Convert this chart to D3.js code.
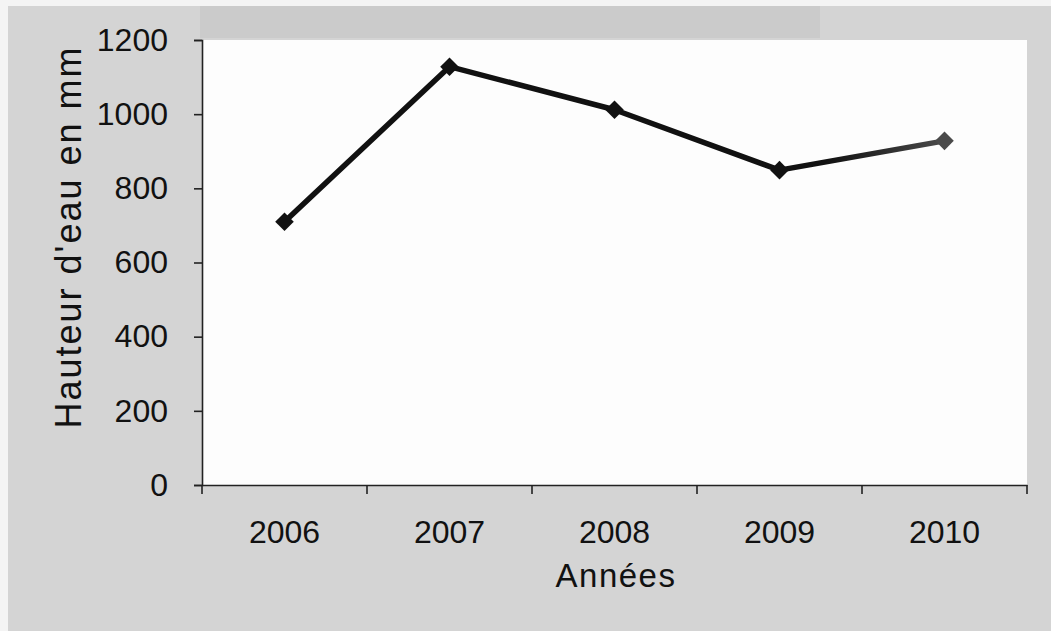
<!DOCTYPE html>
<html>
<head>
<meta charset="utf-8">
<script src="https://cdn.jsdelivr.net/npm/d3@7"></script>
<style>
  html, body { margin: 0; padding: 0; background: #f4f4f4; }
  svg { display: block; }
  text { font-family: "Liberation Sans", Arial, sans-serif; fill: #111; }
</style>
</head>
<body>
<svg id="chart" width="1051" height="631"></svg>
<script>
const years = ["2006", "2007", "2008", "2009", "2010"];
const rainfall = [710, 1128, 1012, 849, 928];
const yTicks = [0, 200, 400, 600, 800, 1000, 1200];
const xTitle = "Années";
const yTitle = "Hauteur d'eau en mm";

const svg = d3.select("#chart");
const W = 1051, H = 631;
const plot = { left: 202, right: 1027, top: 40, bottom: 485 };

// background frame
svg.append("rect").attr("x", 8).attr("y", 6).attr("width", W - 8).attr("height", H - 6)
  .attr("fill", "#d4d4d4");
svg.append("rect").attr("x", 200).attr("y", 6).attr("width", 620).attr("height", 32)
  .attr("fill", "#cbcbcb");

// plot area
svg.append("rect").attr("x", plot.left).attr("y", plot.top)
  .attr("width", plot.right - plot.left).attr("height", plot.bottom - plot.top)
  .attr("fill", "#fdfdfd");

const x = d3.scaleBand().domain(years).range([plot.left, plot.right]).padding(0);
const y = d3.scaleLinear().domain([0, 1200]).range([plot.bottom, plot.top]);

// y axis
const yAxis = svg.append("g").attr("transform", `translate(${plot.left},0)`)
  .call(d3.axisLeft(y).tickValues(yTicks).tickSize(8).tickPadding(26).tickFormat(d3.format("d")));
yAxis.select(".domain").attr("stroke", "#222").attr("stroke-width", 1.6);
yAxis.selectAll(".tick line").attr("stroke", "#222").attr("stroke-width", 1.6);
yAxis.selectAll(".tick text").attr("font-size", 32).attr("font-family", "Liberation Sans, Arial, sans-serif").attr("fill", "#111");

// x axis: domain + boundary ticks (Excel style)
const xAxis = svg.append("g").attr("transform", `translate(0,${plot.bottom})`)
  .call(d3.axisBottom(x).tickSize(0).tickPadding(35));
xAxis.select(".domain").attr("stroke", "#222").attr("stroke-width", 1.6);
xAxis.selectAll(".tick text").attr("font-size", 32).attr("font-family", "Liberation Sans, Arial, sans-serif").attr("fill", "#111");
const bounds = years.map(d => x(d)).concat([x(years[years.length - 1]) + x.bandwidth()]);
xAxis.selectAll("line.bound").data(bounds).enter().append("line")
  .attr("class", "bound")
  .attr("x1", d => d).attr("x2", d => d).attr("y1", 0).attr("y2", 9)
  .attr("stroke", "#222").attr("stroke-width", 1.6);

// titles
svg.append("text").attr("x", 616).attr("y", 587).attr("text-anchor", "middle")
  .attr("font-size", 33).attr("letter-spacing", 1.5).text(xTitle);
svg.append("text").attr("transform", "translate(81,237) rotate(-90)").attr("text-anchor", "middle")
  .attr("font-size", 36).attr("letter-spacing", 2).text(yTitle);

// line
const pts = years.map((d, i) => [x(d) + x.bandwidth() / 2, y(rainfall[i])]);
const grad = svg.append("defs").append("linearGradient").attr("id", "lg")
  .attr("gradientUnits", "userSpaceOnUse")
  .attr("x1", pts[0][0]).attr("x2", pts[4][0]).attr("y1", 0).attr("y2", 0);
grad.append("stop").attr("offset", "0.82").attr("stop-color", "#111");
grad.append("stop").attr("offset", "1").attr("stop-color", "#4a4a4a");

svg.append("path").attr("d", d3.line()(pts))
  .attr("fill", "none").attr("stroke", "url(#lg)").attr("stroke-width", 5.5)
  .attr("stroke-linejoin", "round");

// markers (diamonds)
const sym = d3.symbol().type(d3.symbolDiamond2).size(220);
svg.selectAll("path.mk").data(pts).enter().append("path")
  .attr("class", "mk")
  .attr("transform", d => `translate(${d[0]},${d[1]})`)
  .attr("d", sym)
  .attr("fill", (d, i) => i === pts.length - 1 ? "#4a4a4a" : "#111");
</script>
</body>
</html>
